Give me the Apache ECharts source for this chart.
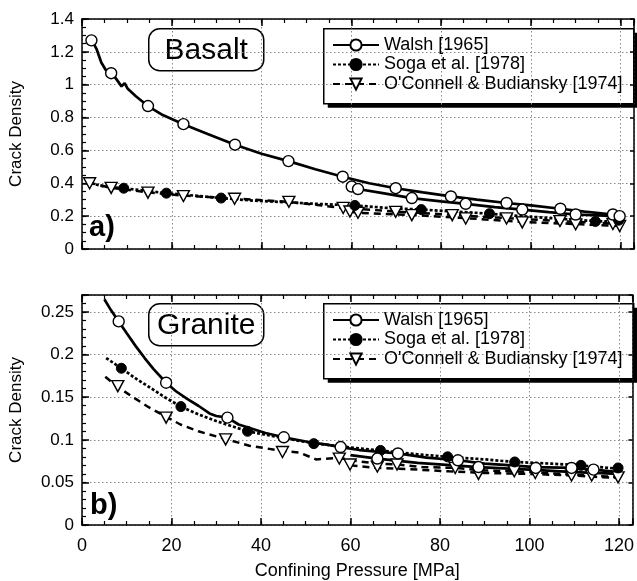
<!DOCTYPE html>
<html>
<head>
<meta charset="utf-8">
<script src="https://cdn.jsdelivr.net/npm/echarts@6/dist/echarts.min.js"></script>
<style>html,body{margin:0;padding:0;background:#fff;}#c{width:637px;height:581px;}</style>
</head>
<body>
<div id="c"></div>
<script>
// ---------- DATA ----------
const seriesNames = ['Walsh [1965]', 'Soga et al. [1978]', "O'Connell & Budiansky [1974]"];
const xTicks = [0, 20, 40, 60, 80, 100, 120];
const basaltYTicks = [0, 0.2, 0.4, 0.6, 0.8, 1, 1.2, 1.4];
const graniteYTicks = [0, 0.05, 0.1, 0.15, 0.2, 0.25];

// Basalt (panel a)
const basaltWalshLine = [[1.7,1.27],[2.5,1.255],[3.2,1.22],[4.3,1.135],[5.3,1.09],[6.5,1.07],[7.5,1.04],[8.8,0.99],[9.5,1.01],[10.2,0.975],[12,0.93],[14.7,0.87],[18,0.815],[22.6,0.76],[28,0.70],[34.1,0.635],[40,0.58],[46,0.535],[52,0.485],[58.1,0.44],[64,0.40],[69.9,0.37],[76,0.345],[82.2,0.32],[88,0.30],[94.6,0.28],[100,0.265],[106.6,0.245],[112,0.228],[118.3,0.21],[120,0.205]];
const basaltWalshLine2 = [[60.1,0.38],[61.5,0.365],[67,0.34],[73.5,0.31],[80,0.29],[85.5,0.275],[92,0.255],[98.1,0.24],[104,0.225],[110,0.21],[115,0.205],[119.8,0.2]];
const basaltWalshMarks = [[2.1,1.27],[6.5,1.07],[14.7,0.87],[22.6,0.76],[34.1,0.635],[46,0.535],[58.1,0.44],[69.9,0.37],[82.2,0.32],[94.6,0.28],[106.6,0.245],[118.3,0.21],[60.1,0.38],[61.5,0.365],[73.5,0.31],[85.5,0.275],[98.1,0.24],[110,0.21],[119.8,0.2]];
const basaltSogaLine = [[2,0.40],[5,0.38],[9.3,0.37],[14,0.355],[18.8,0.34],[25,0.325],[31,0.31],[38,0.295],[45,0.285],[52,0.275],[60.8,0.265],[68,0.25],[75.6,0.24],[83,0.228],[90.8,0.215],[98,0.2],[106,0.185],[114.4,0.17],[120,0.165]];
const basaltSogaMarks = [[9.3,0.37],[18.8,0.34],[31,0.31],[60.8,0.265],[75.6,0.24],[90.8,0.215],[114.4,0.168],[119.6,0.175]];
const basaltOCLine = [[1.5,0.405],[6.5,0.372],[14.7,0.345],[22.6,0.325],[34,0.308],[46,0.287],[58.2,0.25],[69.9,0.228],[82.5,0.208],[94.6,0.188],[106.5,0.17],[118.3,0.155],[120,0.15]];
const basaltOCLine2 = [[59.7,0.228],[61.5,0.22],[73.5,0.207],[85.5,0.188],[98.1,0.165],[110,0.152],[119.8,0.14]];
const basaltOCMarks = [[1.7,0.40],[6.5,0.372],[14.7,0.343],[22.6,0.322],[34,0.306],[46.1,0.287],[58.2,0.25],[59.7,0.228],[61.5,0.22],[69.9,0.226],[73.5,0.206],[82.5,0.206],[85.5,0.186],[94.6,0.186],[98.1,0.162],[106.5,0.17],[110,0.15],[118.3,0.152],[119.8,0.14]];

// Granite (panel b)
const graniteWalshLine = [[5,0.265],[6.5,0.252],[8.2,0.239],[10,0.225],[12,0.21],[14,0.196],[16,0.183],[18.8,0.167],[21,0.157],[23.5,0.148],[26,0.14],[28.5,0.131],[30,0.128],[32.5,0.126],[35,0.118],[38,0.113],[41,0.108],[45.1,0.103],[50,0.098],[55,0.094],[57.8,0.0915],[62,0.088],[66,0.086],[70.6,0.084],[77,0.079],[84,0.076],[90,0.072],[96,0.070],[101.4,0.068],[109.4,0.067],[114.3,0.065],[120,0.062]];
const graniteWalshLine2 = [[60,0.082],[66,0.078],[75,0.073],[88.6,0.068],[100,0.065],[110,0.062],[120,0.06]];
const graniteWalshMarks = [[8.2,0.239],[18.8,0.167],[32.5,0.126],[45.1,0.103],[57.8,0.0915],[66,0.078],[70.6,0.084],[84,0.076],[88.6,0.068],[101.4,0.067],[109.4,0.067],[114.3,0.065]];
const graniteSogaLine = [[5.4,0.196],[8.8,0.184],[12,0.172],[15,0.162],[18.5,0.15],[22.1,0.139],[26,0.13],[30,0.122],[37,0.11],[45,0.102],[51.8,0.096],[60,0.091],[66.7,0.0875],[75,0.083],[81.7,0.08],[90,0.077],[96.7,0.074],[105,0.072],[111.5,0.070],[120,0.066]];
const graniteSogaMarks = [[8.8,0.184],[22.1,0.139],[37,0.110],[51.8,0.0955],[66.7,0.0875],[81.7,0.080],[96.7,0.074],[111.5,0.070],[119.8,0.067]];
const graniteOCLine = [[5.2,0.174],[8,0.162],[12,0.148],[15,0.138],[18.8,0.127],[22,0.118],[26,0.11],[32.1,0.101],[37.4,0.093],[44.8,0.087],[48.6,0.085],[52.3,0.077],[57.5,0.079],[60,0.076],[66,0.072],[70.4,0.071],[76,0.068],[83.4,0.067],[90,0.064],[96.6,0.063],[104,0.061],[110,0.059],[114,0.058],[120,0.056]];
const graniteOCLine2 = [[60,0.070],[66,0.067],[75,0.065],[82,0.063],[90,0.061],[100,0.060],[110,0.058],[120,0.055]];
const graniteOCMarks = [[8,0.163],[18.8,0.126],[32.1,0.1005],[44.8,0.0857],[57.5,0.078],[59.9,0.071],[66,0.0686],[70.4,0.071],[83.4,0.067],[88.6,0.06],[96.6,0.063],[101.3,0.061],[109.4,0.058],[113.9,0.058],[119.8,0.056]];

// ---------- STYLE / BUILD ----------
const FONT = "'Liberation Sans', Arial, Helvetica, sans-serif";
const X_MAX = 123;
const TRI = 'path://M0,0L10,0L5,9Z';

function isTick(v, ticks) { return ticks.some(t => Math.abs(t - v) < 1e-9); }

const grids = [
  { left: 82, top: 19, width: 552, height: 230 },
  { left: 82, top: 295, width: 552, height: 231 }
];

const xAxes = [], yAxes = [];
const yConf = [
  { max: 1.4, interval: 0.2, minor: 0.05, ticks: basaltYTicks },
  { max: 0.27, interval: 0.05, minor: 0.01, ticks: graniteYTicks }
];
const axisLineStyle = { color: '#000', width: 1.5 };

for (let g = 0; g < 2; g++) {
  const showLabels = g === 1;
  xAxes.push({
    gridIndex: g, type: 'value', position: 'bottom', min: 0, max: X_MAX, interval: 20,
    axisLine: { show: true, onZero: false, lineStyle: axisLineStyle },
    axisTick: { show: true, inside: true, length: 7, lineStyle: { color: '#000', width: 1.5 } },
    axisLabel: {
      show: showLabels, margin: 12, fontSize: 18, color: '#000', fontFamily: FONT,
      formatter: v => isTick(v, xTicks) ? String(v) : ''
    },
    splitLine: { show: true, lineStyle: { color: '#888', type: [1.5, 2.5], width: 1 } },
    name: showLabels ? 'Confining Pressure [MPa]' : '',
    nameLocation: 'middle', nameGap: 37,
    nameTextStyle: { fontSize: 18, color: '#000', fontFamily: FONT }
  });
  xAxes.push({
    gridIndex: g, type: 'value', position: 'bottom', min: 0, max: X_MAX, interval: 5,
    axisLine: { show: false, onZero: false },
    axisTick: { show: true, inside: true, length: 4, lineStyle: { color: '#000', width: 1.2 } },
    axisLabel: { show: false }, splitLine: { show: false }
  });
  xAxes.push({
    gridIndex: g, type: 'value', position: 'top', min: 0, max: X_MAX, interval: 20,
    axisLine: { show: true, onZero: false, lineStyle: axisLineStyle },
    axisTick: { show: true, inside: true, length: 7, lineStyle: { color: '#000', width: 1.5 } },
    axisLabel: { show: false }, splitLine: { show: false }
  });
  xAxes.push({
    gridIndex: g, type: 'value', position: 'top', min: 0, max: X_MAX, interval: 5,
    axisLine: { show: false, onZero: false },
    axisTick: { show: true, inside: true, length: 4, lineStyle: { color: '#000', width: 1.2 } },
    axisLabel: { show: false }, splitLine: { show: false }
  });

  const yc = yConf[g];
  yAxes.push({
    gridIndex: g, type: 'value', position: 'left', min: 0, max: yc.max, interval: yc.interval,
    axisLine: { show: true, onZero: false, lineStyle: axisLineStyle },
    axisTick: { show: true, inside: true, length: 7, lineStyle: { color: '#000', width: 1.5 } },
    axisLabel: {
      show: true, margin: 8, fontSize: 17, color: '#000', fontFamily: FONT,
      formatter: v => isTick(v, yc.ticks) ? String(+v.toFixed(2)) : ''
    },
    splitLine: { show: true, lineStyle: { color: '#888', type: [1.5, 2.5], width: 1 } },
    name: 'Crack Density', nameLocation: 'middle', nameGap: 57,
    nameTextStyle: { fontSize: 17, color: '#000', fontFamily: FONT }
  });
  yAxes.push({
    gridIndex: g, type: 'value', position: 'left', min: 0, max: yc.max, interval: yc.minor,
    axisLine: { show: false, onZero: false },
    axisTick: { show: true, inside: true, length: 4, lineStyle: { color: '#000', width: 1.2 } },
    axisLabel: { show: false }, splitLine: { show: false }
  });
  yAxes.push({
    gridIndex: g, type: 'value', position: 'right', min: 0, max: yc.max, interval: yc.interval,
    axisLine: { show: true, onZero: false, lineStyle: axisLineStyle },
    axisTick: { show: true, inside: true, length: 4, lineStyle: { color: '#000', width: 1.5 } },
    axisLabel: { show: false }, splitLine: { show: false }
  });
}

const lineStyles = [
  { color: '#000', width: 2.7, type: 'solid' },
  { color: '#000', width: 2.7, type: [3, 2] },
  { color: '#000', width: 2.5, type: [7, 5] }
];
const markStyles = [
  { symbol: 'circle', size: 11, item: { color: '#fff', borderColor: '#000', borderWidth: 1.4, opacity: 1 } },
  { symbol: 'circle', size: 10, item: { color: '#000', borderColor: '#000', borderWidth: 1, opacity: 1 } },
  { symbol: TRI, size: [12, 11], item: { color: '#fff', borderColor: '#000', borderWidth: 1.4, opacity: 1 } }
];

const series = [];
function addLine(name, k, g, data, z) {
  series.push({
    name: name, type: 'line', xAxisIndex: g * 4, yAxisIndex: g * 3, data: data,
    showSymbol: false, symbol: markStyles[k].symbol, symbolSize: markStyles[k].size,
    itemStyle: markStyles[k].item, lineStyle: lineStyles[k],
    smooth: false, z: z, silent: true, animation: false
  });
}
function addMarks(name, k, g, data, z) {
  series.push({
    name: name, type: 'scatter', xAxisIndex: g * 4, yAxisIndex: g * 3, data: data,
    symbol: markStyles[k].symbol, symbolSize: markStyles[k].size,
    itemStyle: markStyles[k].item, z: z, silent: true, animation: false
  });
}

const panels = [
  [[basaltWalshLine, basaltWalshLine2, basaltWalshMarks], [basaltSogaLine, null, basaltSogaMarks], [basaltOCLine, basaltOCLine2, basaltOCMarks]],
  [[graniteWalshLine, graniteWalshLine2, graniteWalshMarks], [graniteSogaLine, null, graniteSogaMarks], [graniteOCLine, graniteOCLine2, graniteOCMarks]]
];
for (let g = 0; g < 2; g++) for (let k = 0; k < 3; k++) addLine(seriesNames[k], k, g, panels[g][k][0], 3);
for (let g = 0; g < 2; g++) for (let k = 0; k < 3; k++) {
  if (panels[g][k][1]) addLine('branch' + g + k, k, g, panels[g][k][1], 3);
}
for (let g = 0; g < 2; g++) for (let k = 2; k >= 0; k--) addMarks('marks' + g + k, k, g, panels[g][k][2], 5 + (2 - k));

function legendAt(top) {
  return {
    data: seriesNames, orient: 'vertical', left: 323, top: top,
    itemWidth: 46, itemHeight: 14, itemGap: 1.5,
    padding: [8, 10, 9, 9],
    backgroundColor: 'transparent', borderWidth: 0,
    textStyle: { fontSize: 18, lineHeight: 18, color: '#000', fontFamily: FONT },
    selectedMode: false, z: 20
  };
}

function legendBox(y) {
  return {
    type: 'group', left: 323, top: y, z: 15,
    children: [
      { type: 'rect', shape: { x: 4, y: 4, width: 310, height: 75 }, style: { fill: '#000' } },
      { type: 'rect', shape: { x: 0, y: 0, width: 310, height: 75 }, style: { fill: '#fff', stroke: '#000', lineWidth: 1.5 } }
    ]
  };
}

function labelBox(y, text) {
  return {
    type: 'group', left: 148, top: y, z: 30,
    children: [
      { type: 'rect', shape: { x: 0, y: 0, width: 115, height: 42, r: 11 }, style: { fill: '#fff', stroke: '#000', lineWidth: 1.5 } },
      { type: 'text', x: 57.5, y: 22, style: { text: text, fontSize: 30, fontFamily: FONT, fill: '#000', align: 'center', verticalAlign: 'middle' } }
    ]
  };
}

const option = {
  animation: false,
  backgroundColor: '#fff',
  grid: grids,
  xAxis: xAxes,
  yAxis: yAxes,
  legend: [legendAt(28), legendAt(303)],
  series: series,
  graphic: [
    legendBox(28),
    legendBox(303),
    labelBox(28, 'Basalt'),
    labelBox(303, 'Granite'),
    { type: 'text', left: 89, top: 213, z: 30, style: { text: 'a)', font: 'bold 29px ' + FONT, fill: '#000' } },
    { type: 'text', left: 90, top: 491, z: 30, style: { text: 'b)', font: 'bold 29px ' + FONT, fill: '#000' } }
  ]
};

const chart = echarts.init(document.getElementById('c'), null, { renderer: 'canvas' });
chart.setOption(option);
</script>
</body>
</html>
